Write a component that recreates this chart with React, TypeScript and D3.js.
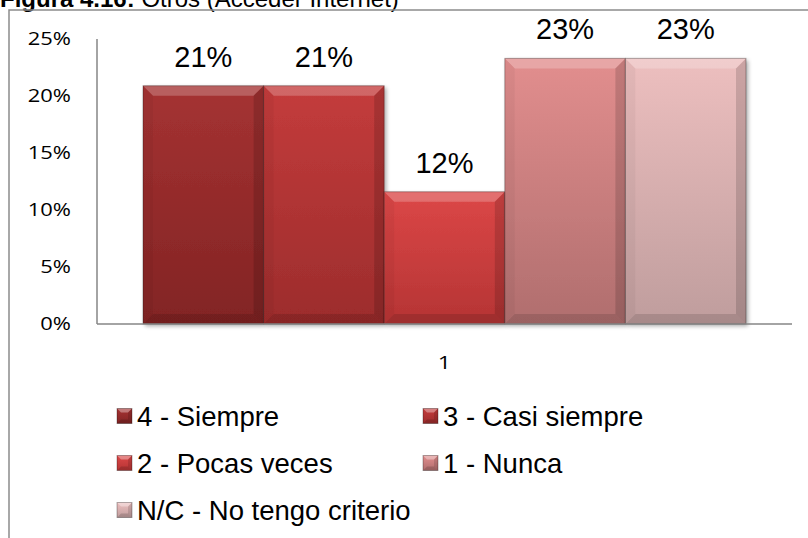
import React from "react";
import * as d3 from "d3";

const categories = ["1"];
const seriesNames = [
  "4 - Siempre",
  "3 - Casi siempre",
  "2 - Pocas veces",
  "1 - Nunca",
  "N/C - No tengo criterio",
];
const seriesValues = [0.209, 0.209, 0.116, 0.233, 0.233];
const seriesLabels = ["21%", "21%", "12%", "23%", "23%"];
const yTicks = [0, 0.05, 0.1, 0.15, 0.2, 0.25];
const topColors = ["#a53232", "#c43c3c", "#dc4747", "#e28e8e", "#edbfbf"];
const bottomColors = ["#822424", "#9c2c2c", "#b53434", "#b06e6e", "#bf9d9d"];

const W = 808;
const H = 538;
const left = 97;
const right = 792;
const top = 39;
const bottom = 324;

export default function App() {
  const y = d3.scaleLinear().domain([0, 0.25]).range([bottom, top]);
  const x0 = d3
    .scaleBand<string>()
    .domain(categories)
    .range([left, right])
    .paddingInner(0.0709)
    .paddingOuter(0.0709);
  const x1 = d3
    .scaleBand<string>()
    .domain(seriesNames)
    .range([0, x0.bandwidth()])
    .padding(0);
  const fmt = d3.format(".0%");
  const b = 10;

  const bevel = (x: number, yt: number, w: number, h: number, bw = b) => {
    const bb = Math.min(bw, h / 2, w / 2);
    const x2 = x + w;
    const y2 = yt + h;
    return {
      top: `${x},${yt} ${x2},${yt} ${x2 - bb},${yt + bb} ${x + bb},${yt + bb}`,
      left: `${x},${yt} ${x + bb},${yt + bb} ${x + bb},${y2 - bb} ${x},${y2}`,
      right: `${x2},${yt} ${x2},${y2} ${x2 - bb},${y2 - bb} ${x2 - bb},${yt + bb}`,
      bottom: `${x},${y2} ${x + bb},${y2 - bb} ${x2 - bb},${y2 - bb} ${x2},${y2}`,
    };
  };

  const legendItems = seriesNames.map((name, i) => ({
    name,
    i,
    x: i % 2 === 0 ? 117 : 423,
    y: 416 + Math.floor(i / 2) * 47,
  }));

  const sansC = "'Open Sans', Calibri, sans-serif";

  return (
    <svg
      width={W}
      height={H}
      style={{ position: "absolute", left: 0, top: 0, background: "#fff" }}
      fontFamily="'Liberation Sans', Arial, sans-serif"
    >
      <defs>
        {seriesNames.map((_, i) => (
          <linearGradient key={i} id={`g${i}`} x1="0" y1="0" x2="0" y2="1">
            <stop offset="0" stopColor={topColors[i]} />
            <stop offset="1" stopColor={bottomColors[i]} />
          </linearGradient>
        ))}
        <filter id="sh" x="-10%" y="-10%" width="130%" height="130%">
          <feGaussianBlur in="SourceAlpha" stdDeviation="2" />
          <feOffset dx="2" dy="2" result="o" />
          <feComponentTransfer>
            <feFuncA type="linear" slope="0.35" />
          </feComponentTransfer>
          <feMerge>
            <feMergeNode />
            <feMergeNode in="SourceGraphic" />
          </feMerge>
        </filter>
      </defs>

      {/* title (cropped at top in the reference) */}
      <text x={0} y={7} fontSize={24} fill="#000">
        <tspan fontWeight="bold">Figura 4.16:</tspan>
        <tspan> Otros (Acceder Internet)</tspan>
      </text>

      {/* chart border */}
      <path d={`M9,${H + 5} L9,10 L${W + 5},10`} fill="none" stroke="#8c8c8c" strokeWidth={1.5} />

      {/* y ticks */}
      {yTicks.map((t) => (
        <g key={t} transform={`translate(71,${y(t)}) scale(1.22,1)`}>
          <text dy="0.36em" textAnchor="end" fontSize={18} fontFamily={sansC} fill="#000">
            {fmt(t)}
          </text>
        </g>
      ))}

      {/* bars */}
      {categories.map((c) => (
        <g key={c} transform={`translate(${x0(c)},0)`}>
          {seriesNames.map((s, i) => {
            const bx = x1(s)!;
            const bw = x1.bandwidth();
            const yt = y(seriesValues[i]);
            const bh = bottom - yt;
            const bv = bevel(bx, yt, bw, bh);
            return (
              <g key={s}>
                <rect x={bx} y={yt} width={bw} height={bh} fill={`url(#g${i})`} filter="url(#sh)" />
                <polygon points={bv.top} fill="#fff" opacity={0.22} />
                <polygon points={bv.left} fill="#000" opacity={0.04} />
                <polygon points={bv.right} fill="#000" opacity={0.14} />
                <polygon points={bv.bottom} fill="#000" opacity={0.12} />
                <rect x={bx} y={yt} width={bw} height={bh} fill="none" stroke="#000" strokeOpacity={0.3} strokeWidth={1} />
                <text x={bx + bw / 2} y={yt - 19} textAnchor="middle" fontSize={29} fill="#000">
                  {seriesLabels[i]}
                </text>
              </g>
            );
          })}
          <g transform={`translate(${x0.bandwidth() / 2},362) scale(1.22,1)`}>
            <text dy="0.36em" textAnchor="middle" fontSize={19} fontFamily={sansC} fill="#000">
              {c}
            </text>
          </g>
        </g>
      ))}

      {/* axes */}
      <line x1={left} x2={left} y1={top} y2={bottom} stroke="#868686" strokeWidth={1.5} />
      <line x1={left} x2={right} y1={bottom} y2={bottom} stroke="#868686" strokeWidth={1.5} />

      {/* legend */}
      {legendItems.map((it) => {
        const s = 15;
        const bv = bevel(it.x, it.y - s / 2, s, s, 4);
        return (
          <g key={it.name}>
            <rect x={it.x} y={it.y - s / 2} width={s} height={s} fill={`url(#g${it.i})`} />
            <polygon points={bv.top} fill="#fff" opacity={0.35} />
            <polygon points={bv.right} fill="#000" opacity={0.12} />
            <polygon points={bv.bottom} fill="#000" opacity={0.15} />
            <rect x={it.x} y={it.y - s / 2} width={s} height={s} fill="none" stroke="#000" strokeOpacity={0.3} />
            <text x={it.x + 20} y={it.y} dy="0.36em" fontSize={27.5} fill="#000">
              {it.name}
            </text>
          </g>
        );
      })}
    </svg>
  );
}
